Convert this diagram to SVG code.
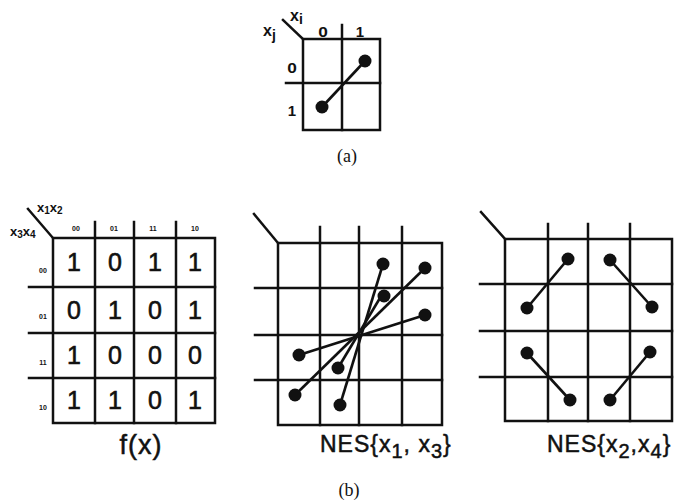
<svg xmlns="http://www.w3.org/2000/svg" width="687" height="503" viewBox="0 0 687 503">
<style>
.g{fill:none;stroke:#111;stroke-width:2.5;stroke-linecap:square}
.c{stroke:#111;stroke-width:2.6;fill:none}
.d{fill:#111}
.lb{font-family:"Liberation Sans",Arial,sans-serif;font-weight:bold;fill:#111}
.dg{font-family:"Liberation Sans",Arial,sans-serif;font-size:25px;fill:#111;stroke:#111;stroke-width:0.6;text-anchor:middle}
.hd{font-family:"Liberation Sans",Arial,sans-serif;font-weight:bold;font-size:7px;fill:#111;text-anchor:middle}
.cap{font-family:"Liberation Sans",Arial,sans-serif;fill:#111;stroke:#111;stroke-width:0.5}
.ser{font-family:"Liberation Serif","Times New Roman",serif;font-size:18px;fill:#111;text-anchor:middle}
</style>
<rect width="687" height="503" fill="#fff"/>

<g id="map-a">
  <rect class="g" x="303" y="39" width="77" height="91"/>
  <line class="g" x1="342" y1="25" x2="342" y2="130"/>
  <line class="g" x1="286" y1="83" x2="380" y2="83"/>
  <line class="g" x1="303" y1="39" x2="283" y2="20"/>
  <text class="lb" font-size="16" x="290" y="21">x<tspan font-size="14" dy="3">i</tspan></text>
  <text class="lb" font-size="16" x="263" y="36">x<tspan font-size="14" dy="4">j</tspan></text>
  <text class="lb" font-size="15" x="323" y="37" text-anchor="middle" transform="translate(323 0) scale(1.15 1) translate(-323 0)">0</text>
  <text class="lb" font-size="15" x="360" y="37" text-anchor="middle">1</text>
  <text class="lb" font-size="15" x="292" y="73" text-anchor="middle" transform="translate(292 0) scale(1.15 1) translate(-292 0)">0</text>
  <text class="lb" font-size="15" x="292" y="116" text-anchor="middle">1</text>
  <text class="ser" x="347" y="162">(a)</text>
</g>

<g id="map-fx">
  <rect class="g" x="53" y="238" width="162" height="185"/>
  <line class="g" x1="95" y1="222" x2="95" y2="423"/>
  <line class="g" x1="134" y1="222" x2="134" y2="423"/>
  <line class="g" x1="176" y1="222" x2="176" y2="423"/>
  <line class="g" x1="29" y1="287" x2="215" y2="287"/>
  <line class="g" x1="29" y1="333" x2="215" y2="333"/>
  <line class="g" x1="29" y1="378" x2="215" y2="378"/>
  <line class="g" x1="53" y1="238" x2="28" y2="209"/>
  <text class="lb" font-size="13" x="37" y="212">x<tspan font-size="10" dy="2">1</tspan><tspan dy="-2">x</tspan><tspan font-size="10" dy="2">2</tspan></text>
  <text class="lb" font-size="13" x="10" y="236">x<tspan font-size="10" dy="2">3</tspan><tspan dy="-2">x</tspan><tspan font-size="10" dy="2">4</tspan></text>
  <text class="hd" x="76" y="231">00</text>
  <text class="hd" x="114" y="231">01</text>
  <text class="hd" x="153" y="231">11</text>
  <text class="hd" x="195" y="231">10</text>
  <text class="hd" x="43" y="273">00</text>
  <text class="hd" x="43" y="319">01</text>
  <text class="hd" x="43" y="365">11</text>
  <text class="hd" x="43" y="410">10</text>
  <text class="dg" x="74" y="271">1</text><text class="dg" x="115" y="271">0</text><text class="dg" x="155" y="271">1</text><text class="dg" x="195" y="271">1</text>
  <text class="dg" x="74" y="319">0</text><text class="dg" x="115" y="319">1</text><text class="dg" x="155" y="319">0</text><text class="dg" x="195" y="319">1</text>
  <text class="dg" x="74" y="364">1</text><text class="dg" x="115" y="364">0</text><text class="dg" x="155" y="364">0</text><text class="dg" x="195" y="364">0</text>
  <text class="dg" x="74" y="409">1</text><text class="dg" x="115" y="409">1</text><text class="dg" x="155" y="409">0</text><text class="dg" x="195" y="409">1</text>
  <text class="cap" font-size="27" x="141" y="454" text-anchor="middle" letter-spacing="1">f(x)</text>
</g>

<g id="map-nes13">
  <rect class="g" x="278" y="243" width="164" height="182"/>
  <line class="g" x1="320" y1="227" x2="320" y2="425"/>
  <line class="g" x1="359" y1="227" x2="359" y2="425"/>
  <line class="g" x1="402" y1="227" x2="402" y2="425"/>
  <line class="g" x1="255" y1="288" x2="442" y2="288"/>
  <line class="g" x1="255" y1="335" x2="442" y2="335"/>
  <line class="g" x1="255" y1="380" x2="442" y2="380"/>
  <line class="g" x1="278" y1="243" x2="254" y2="214"/>
  <text class="cap" font-size="23" x="320" y="452" letter-spacing="1">NES{x<tspan font-size="20" dy="6">1</tspan><tspan dy="-6">, x</tspan><tspan font-size="20" dy="6">3</tspan><tspan dy="-6">}</tspan></text>
</g>

<g id="map-nes24">
  <rect class="g" x="505" y="239" width="167" height="182"/>
  <line class="g" x1="548" y1="224" x2="548" y2="421"/>
  <line class="g" x1="588" y1="224" x2="588" y2="421"/>
  <line class="g" x1="630" y1="224" x2="630" y2="421"/>
  <line class="g" x1="480" y1="284" x2="672" y2="284"/>
  <line class="g" x1="480" y1="331" x2="672" y2="331"/>
  <line class="g" x1="480" y1="377" x2="672" y2="377"/>
  <line class="g" x1="505" y1="239" x2="481" y2="212"/>
  <text class="cap" font-size="23" x="547" y="452" letter-spacing="1">NES{x<tspan font-size="20" dy="6">2</tspan><tspan dy="-6">,x</tspan><tspan font-size="20" dy="6">4</tspan><tspan dy="-6">}</tspan></text>
</g>

<text id="label-b" class="ser" x="349" y="496">(b)</text>

<g id="connectors">
  <line class="c" x1="365" y1="61" x2="322" y2="107"/>
  <circle class="d" cx="365" cy="61" r="6.5"/><circle class="d" cx="322" cy="107" r="6.5"/>

  <line class="c" x1="383" y1="264" x2="340" y2="405"/>
  <line class="c" x1="425" y1="268" x2="295" y2="395"/>
  <line class="c" x1="383" y1="293" x2="338" y2="368"/>
  <line class="c" x1="425" y1="315" x2="299" y2="355"/>
  <circle class="d" cx="383" cy="264" r="6.5"/><circle class="d" cx="340" cy="405" r="6.5"/>
  <circle class="d" cx="425" cy="268" r="6.5"/><circle class="d" cx="295" cy="395" r="6.5"/>
  <circle class="d" cx="384" cy="296" r="6.5"/><circle class="d" cx="338" cy="368" r="6.5"/>
  <circle class="d" cx="425" cy="315" r="6.5"/><circle class="d" cx="299" cy="355" r="6.5"/>

  <line class="c" x1="568" y1="259" x2="527" y2="308"/>
  <line class="c" x1="610" y1="260" x2="652" y2="307"/>
  <line class="c" x1="527" y1="353" x2="570" y2="400"/>
  <line class="c" x1="650" y1="352" x2="610" y2="400"/>
  <circle class="d" cx="568" cy="259" r="6.5"/><circle class="d" cx="527" cy="308" r="6.5"/>
  <circle class="d" cx="610" cy="260" r="6.5"/><circle class="d" cx="652" cy="307" r="6.5"/>
  <circle class="d" cx="527" cy="353" r="6.5"/><circle class="d" cx="570" cy="400" r="6.5"/>
  <circle class="d" cx="650" cy="352" r="6.5"/><circle class="d" cx="610" cy="400" r="6.5"/>
</g>
</svg>
